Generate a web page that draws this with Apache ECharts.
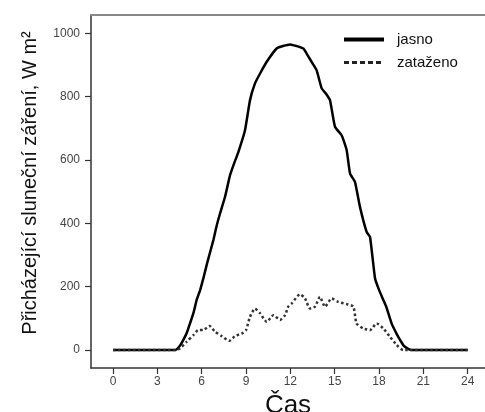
<!DOCTYPE html>
<html>
<head>
<meta charset="utf-8">
<script src="https://cdn.jsdelivr.net/npm/echarts@6/dist/echarts.min.js"></script>
<style>html,body{margin:0;padding:0;background:#fff}#c{width:485px;height:412px}</style>
</head>
<body>
<div id="c"></div>
<script>
// hours of day
const clearHours = [0, 4.2, 4.5, 4.76, 5.0, 5.21, 5.45, 5.66, 5.9, 6.11, 6.4, 6.79, 7.0, 7.24, 7.58, 7.92, 8.2, 8.48, 8.93, 9.27, 9.6, 9.95, 10.4, 11.07, 11.5, 12.0, 12.4, 12.88, 13.1, 13.5, 13.78, 14.12, 14.4, 14.68, 15.02, 15.47, 15.81, 16.04, 16.37, 16.71, 17.16, 17.39, 17.73, 18.0, 18.29, 18.5, 18.85, 19.2, 19.42, 19.7, 20.0, 20.2, 24];
const clearValues = [0, 0, 12, 32, 55, 84, 118, 158, 190, 226, 280, 347, 390, 431, 484, 552, 590, 625, 694, 789, 841, 873, 910, 952, 960, 965, 960, 952, 936, 905, 883, 826, 810, 789, 705, 678, 631, 557, 531, 452, 373, 357, 226, 190, 158, 135, 84, 50, 32, 12, 3, 0, 0];
const cloudyHours = [0, 4.2, 4.53, 4.98, 5.44, 5.77, 6.11, 6.52, 6.9, 7.35, 7.87, 8.25, 8.71, 9.0, 9.27, 9.61, 9.95, 10.4, 10.85, 11.3, 11.64, 11.86, 12.09, 12.65, 12.99, 13.33, 13.67, 14.0, 14.34, 14.8, 15.24, 15.81, 16.26, 16.48, 16.94, 17.39, 17.84, 18.29, 18.74, 19.2, 19.64, 24];
const cloudyValues = [0, 0, 5, 26, 47, 63, 63, 76, 58, 44, 29, 44, 52, 63, 105, 131, 116, 89, 110, 95, 110, 137, 147, 176, 163, 131, 137, 168, 137, 163, 152, 145, 137, 84, 68, 63, 84, 68, 42, 16, 0, 0];
const xTicks = [0, 3, 6, 9, 12, 15, 18, 21, 24];
const yTicks = [0, 200, 400, 600, 800, 1000];
const seriesNames = ['jasno', 'zataženo'];

const chart = echarts.init(document.getElementById('c'), null, {renderer: 'canvas'});
const pair = (xs, ys) => xs.map((x, i) => [x, ys[i]]);
const FONT = 'Liberation Sans, Arial, sans-serif';
const tickFont = {color: '#444', fontSize: 12, fontFamily: FONT};
chart.setOption({
  backgroundColor: '#ffffff',
  animation: false,
  grid: {left: 91, right: 0, top: 15, bottom: 44, outerBoundsMode: 'none', containLabel: false},
  legend: {
    orient: 'vertical', left: 342, top: 32, padding: 0, itemWidth: 40, itemHeight: 14, itemGap: 8,
    textStyle: {color: '#111', fontSize: 15, fontFamily: FONT, padding: [0, 0, 0, 8]},
    data: [
      {name: seriesNames[0], itemStyle: {opacity: 0}, lineStyle: {width: 4, color: '#000', type: 'solid'}},
      {name: seriesNames[1], itemStyle: {opacity: 0}, lineStyle: {width: 3, color: '#222', type: [5, 3]}}
    ]
  },
  xAxis: [{
    type: 'value', min: -1.49, max: 25.17,
    axisLine: {onZero: false, lineStyle: {color: '#333', width: 1.5}},
    axisTick: {customValues: xTicks, length: 6, lineStyle: {color: '#333', width: 1.2}},
    axisLabel: {customValues: xTicks, margin: 8, ...tickFont},
    splitLine: {show: false},
    name: 'Čas', nameLocation: 'middle', nameGap: 22,
    nameTextStyle: {color: '#111', fontSize: 26, fontFamily: FONT}
  }, {
    type: 'value', position: 'top', min: -1.49, max: 25.17,
    axisLine: {show: true, onZero: false, lineStyle: {color: '#888', width: 2}},
    axisTick: {show: false}, axisLabel: {show: false}, splitLine: {show: false}
  }],
  yAxis: {
    type: 'value', min: -56.8, max: 1057.8,
    axisLine: {show: true, onZero: false, lineStyle: {color: '#333', width: 1.5}},
    axisTick: {show: true, customValues: yTicks, length: 6, lineStyle: {color: '#333', width: 1.2}},
    axisLabel: {customValues: yTicks, margin: 11, formatter: v => String(v), ...tickFont},
    splitLine: {show: false},
    name: 'Přicházející sluneční záření, W m²', nameLocation: 'middle', nameGap: 51, nameRotate: 90,
    nameTextStyle: {color: '#111', fontSize: 20, fontFamily: FONT, padding: [0, 0, 0, 17]}
  },
  series: [{
    name: seriesNames[0], type: 'line', symbol: 'none', smooth: 0.15, xAxisIndex: 0,
    itemStyle: {color: '#000'},
    lineStyle: {color: '#000', width: 2.5},
    data: pair(clearHours, clearValues)
  }, {
    name: seriesNames[1], type: 'line', symbol: 'none', smooth: 0.2, xAxisIndex: 0,
    itemStyle: {color: '#333'},
    lineStyle: {color: '#333', width: 2.5, type: [2.5, 2.5]},
    data: pair(cloudyHours, cloudyValues)
  }]
});
</script>
</body>
</html>
